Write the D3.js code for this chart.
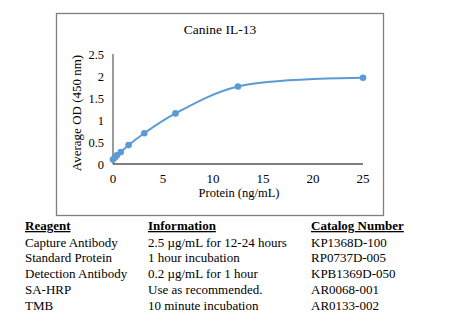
<!DOCTYPE html>
<html lang="en">
<head>
<meta charset="UTF-8">
<title>Canine IL-13</title>
<style>
    body { margin: 0; background: #fff; font-family: "Liberation Serif", "DejaVu Serif", serif; }
    svg { display: block; }
    text { fill: #000; }
</style>
</head>
<body>
<div id="chart"></div>
<script src="https://d3js.org/d3.v7.min.js"></script>
<script>
    // standard curve points
    const protein = [0, 0.195, 0.39, 0.78, 1.5625, 3.125, 6.25, 12.5, 25];
    const od = [0.1, 0.15, 0.2, 0.27, 0.43, 0.7, 1.15, 1.76, 1.96];
    const xTicks = [0, 5, 10, 15, 20, 25];
    const yTicks = [0, 0.5, 1, 1.5, 2, 2.5];

    // table below the chart
    const headers = ["Reagent", "Information", "Catalog Number"];
    const reagents = ["Capture Antibody", "Standard Protein", "Detection Antibody", "SA-HRP", "TMB"];
    const info = ["2.5 \u00b5g/mL for 12-24 hours", "1 hour incubation", "0.2 \u00b5g/mL for 1 hour", "Use as recommended.", "10 minute incubation"];
    const catalog = ["KP1368D-100", "RP0737D-005", "KPB1369D-050", "AR0068-001", "AR0133-002"];

    const W = 453, H = 334;
    const svg = d3.select("#chart").append("svg")
        .attr("width", W).attr("height", H);

    // chart frame
    svg.append("rect")
        .attr("x", 56.5).attr("y", 13.5)
        .attr("width", 327).attr("height", 202)
        .attr("fill", "none").attr("stroke", "#7f7f7f").attr("stroke-width", 1.3);

    const x = d3.scaleLinear().domain([0, 25]).range([113, 363]);
    const y = d3.scaleLinear().domain([0, 2.5]).range([164, 54]);

    svg.append("text")
        .attr("x", 220).attr("y", 34)
        .attr("text-anchor", "middle")
        .style("font-size", "13.5px")
        .text("Canine IL-13");

    // axes
    svg.append("line")
        .attr("x1", x(0)).attr("x2", x(0))
        .attr("y1", y(2.5)).attr("y2", y(0))
        .attr("stroke", "#595959").attr("stroke-width", 1.2);
    svg.append("line")
        .attr("x1", x(0)).attr("x2", x(25))
        .attr("y1", y(0)).attr("y2", y(0))
        .attr("stroke", "#000").attr("stroke-width", 1.2);

    svg.selectAll(".ytick").data(yTicks).enter().append("text")
        .attr("class", "ytick")
        .attr("x", 104).attr("y", d => y(d) + 4.5)
        .attr("text-anchor", "end")
        .style("font-size", "12.5px")
        .text(d => d);

    svg.selectAll(".xtick").data(xTicks).enter().append("text")
        .attr("class", "xtick")
        .attr("x", d => x(d)).attr("y", 183)
        .attr("text-anchor", "middle")
        .style("font-size", "13px")
        .text(d => d);

    svg.append("text")
        .attr("x", 239).attr("y", 197)
        .attr("text-anchor", "middle")
        .style("font-size", "12.5px")
        .text("Protein (ng/mL)");

    svg.append("text")
        .attr("transform", "translate(81,113) rotate(-90)")
        .attr("text-anchor", "middle")
        .style("font-size", "13px")
        .text("Average OD (450 nm)");

    // smoothed line + markers
    const pts = protein.map((p, i) => [p, od[i]]);
    const line = d3.line()
        .x(d => x(d[0])).y(d => y(d[1]))
        .curve(d3.curveCatmullRom.alpha(0.5));

    svg.append("path")
        .attr("d", line(pts))
        .attr("fill", "none")
        .attr("stroke", "#5b9bd5")
        .attr("stroke-width", 2);

    svg.selectAll(".pt").data(pts).enter().append("circle")
        .attr("class", "pt")
        .attr("cx", d => x(d[0])).attr("cy", d => y(d[1]))
        .attr("r", 3.3)
        .attr("fill", "#5b9bd5");

    // table
    const colX = [25, 148, 311];
    const table = svg.append("g").style("font-size", "13px");
    headers.forEach((h, i) => {
        table.append("text")
            .attr("x", colX[i]).attr("y", 230)
            .style("font-weight", "bold")
            .style("text-decoration", "underline")
            .text(h);
    });
    reagents.forEach((r, i) => {
        const yy = 246.5 + i * 15.8;
        table.append("text").attr("x", colX[0]).attr("y", yy).text(r);
        table.append("text").attr("x", colX[1]).attr("y", yy).text(info[i]);
        table.append("text").attr("x", colX[2]).attr("y", yy).text(catalog[i]);
    });
</script>
</body>
</html>
